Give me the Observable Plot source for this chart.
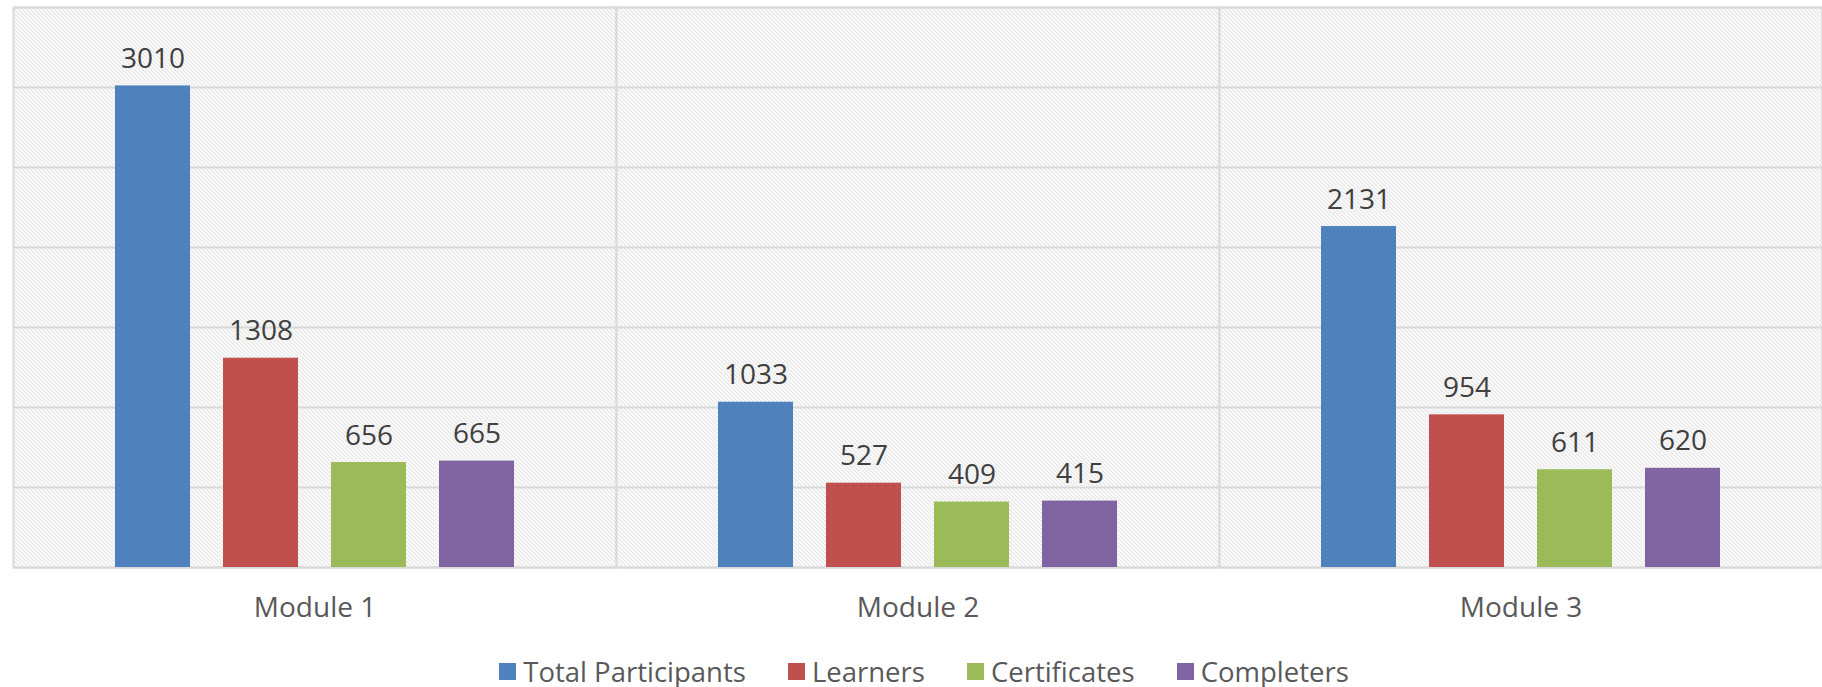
<!DOCTYPE html>
<html>
<head>
<meta charset="utf-8">
<script src="https://cdn.jsdelivr.net/npm/d3@7"></script>
<script src="https://cdn.jsdelivr.net/npm/@observablehq/plot@0.6"></script>
<style>
  html, body { margin: 0; padding: 0; background: #fff; }
  #legend { height: 47px; box-sizing: border-box; padding-top: 15px; display: flex; justify-content: center; align-items: center; padding-left: 26px;
    font-family: "Open Sans", sans-serif; font-size: 27.5px; color: #595959; }
  .item { display: flex; align-items: center; margin: 0 21px; }
  .sw { width: 17px; height: 17px; margin-right: 7px; }
</style>
</head>
<body>
<div id="chart"></div>
<div id="legend"></div>
<script>
const modules = ["Module 1", "Module 2", "Module 3"];
const series = ["Total Participants", "Learners", "Certificates", "Completers"];
const colors = ["#4F81BD", "#C0504D", "#9BBB59", "#8064A2"];
const totalParticipants = [3010, 1033, 2131];
const learners = [1308, 527, 954];
const certificates = [656, 409, 611];
const completers = [665, 415, 620];
const yTicks = [0, 500, 1000, 1500, 2000, 2500, 3000, 3500];

const seriesValues = [totalParticipants, learners, certificates, completers];
const data = [];
modules.forEach((m, i) => series.forEach((s, j) => data.push({module: m, series: s, value: seriesValues[j][i]})));

const plot = Plot.plot({
  width: 1822,
  height: 640,
  marginLeft: 12,
  marginRight: 0,
  marginTop: 7,
  marginBottom: 73,
  style: {fontFamily: "Open Sans, sans-serif", background: "#fff"},
  fx: {domain: modules, padding: 0, label: null},
  x: {domain: series, paddingInner: 0.3056, paddingOuter: 0.944, axis: null},
  y: {domain: [0, 3500], axis: null},
  color: {domain: series, range: colors},
  marks: [
    Plot.frame({fill: "url(#hatch)", stroke: "#d9d9d9", strokeWidth: 2}),
    Plot.gridY(yTicks, {stroke: "#d9d9d9", strokeOpacity: 1, strokeWidth: 2}),
    Plot.barY(data, {fx: "module", x: "series", y: "value", fill: "series"}),
    Plot.text(data, {fx: "module", x: "series", y: "value", text: d => String(d.value), lineAnchor: "bottom", dy: -18, fontSize: 28, fill: "#404040"}),
    Plot.axisFx({anchor: "bottom", tickSize: 0, tickPadding: 30, fontSize: 28, color: "#595959", label: null})
  ]
});

const ns = "http://www.w3.org/2000/svg";
const defs = document.createElementNS(ns, "defs");
defs.innerHTML = `<pattern id="hatch" width="4" height="4" patternUnits="userSpaceOnUse">
  <rect width="4" height="4" fill="#ffffff"/>
  <path d="M-1,-1 L5,5 M-1,3 L1,5 M3,-1 L5,1" stroke="#cfcfcf" stroke-width="1" shape-rendering="crispEdges"/>
</pattern>`;
plot.insertBefore(defs, plot.firstChild);
document.getElementById("chart").appendChild(plot);

const legend = document.getElementById("legend");
series.forEach((s, i) => {
  const it = document.createElement("div");
  it.className = "item";
  it.innerHTML = `<span class="sw" style="background:${colors[i]}"></span><span>${s}</span>`;
  legend.appendChild(it);
});
</script>
</body>
</html>
